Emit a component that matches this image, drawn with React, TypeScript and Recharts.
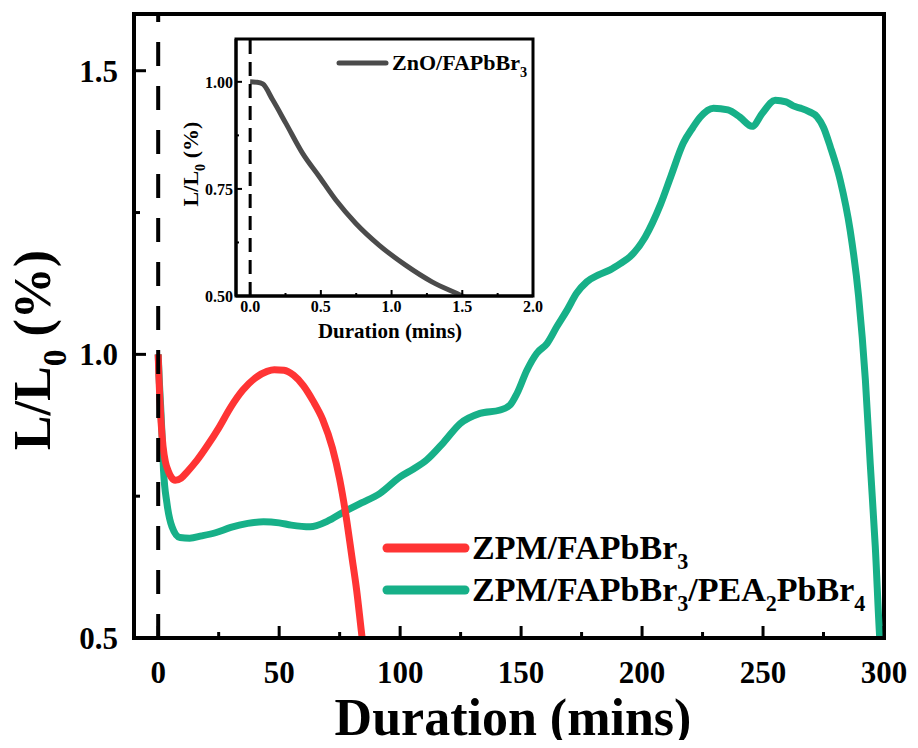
import { LineChart, Line, XAxis, YAxis, ReferenceLine, ReferenceArea } from 'recharts'

const FONT = '"Liberation Serif", Tinos, "Times New Roman", Times, "DejaVu Serif", serif'

// main chart (minutes vs L/L0)
const redX = [0, 0.3, 0.7, 1.2, 2.0, 3.0, 4.1, 5.5, 7, 9.5, 12, 16, 20, 25, 30, 35, 40, 45, 48, 52, 56, 60, 64, 68, 72, 75, 78, 80, 82, 84.3, 85.5]
const redY = [1.0, 0.96, 0.92, 0.88, 0.838, 0.81, 0.795, 0.783, 0.778, 0.782, 0.793, 0.813, 0.837, 0.87, 0.907, 0.937, 0.958, 0.97, 0.973, 0.972, 0.963, 0.945, 0.918, 0.885, 0.835, 0.78, 0.705, 0.645, 0.585, 0.5, 0.46]

const greenX = [0, 0.5, 1.0, 1.5, 2.2, 3.6, 5.7, 9, 13, 18, 24, 30, 37, 43.5, 50, 55, 62.8, 70, 76.6, 84, 91.7, 100, 105.5, 111, 118, 124.8, 133, 141.4, 145.5, 148.3, 152.4, 156.5, 160.7, 164.8, 169, 173, 177.2, 182, 186.8, 191, 195, 201.3, 207.5, 212, 217, 221, 224, 229.5, 235.5, 240.5, 245.5, 249.7, 255, 259.5, 262.5, 265.5, 269, 272.3, 275, 277.8, 281.9, 286, 289.5, 292.3, 294.3, 296.4, 298.4, 299.5]
const greenY = [1.0, 0.95, 0.91, 0.866, 0.796, 0.738, 0.696, 0.677, 0.676, 0.68, 0.686, 0.695, 0.702, 0.705, 0.703, 0.699, 0.696, 0.706, 0.722, 0.738, 0.755, 0.784, 0.798, 0.814, 0.845, 0.878, 0.896, 0.902, 0.911, 0.931, 0.972, 1.002, 1.019, 1.049, 1.078, 1.108, 1.128, 1.14, 1.149, 1.16, 1.172, 1.207, 1.263, 1.315, 1.372, 1.4, 1.418, 1.434, 1.431, 1.418, 1.402, 1.425, 1.448, 1.445, 1.438, 1.434, 1.428, 1.419, 1.4, 1.366, 1.307, 1.219, 1.102, 0.955, 0.808, 0.661, 0.49, 0.45]

// inset (first 2 minutes)
const grayX = [0, 0.05, 0.089, 0.159, 0.253, 0.371, 0.488, 0.606, 0.746, 0.911, 1.099, 1.286, 1.5, 1.56]
const grayY = [1.0, 0.999, 0.995, 0.958, 0.903, 0.833, 0.779, 0.724, 0.67, 0.619, 0.572, 0.533, 0.5, 0.49]

const mainXTicks = [0, 25, 50, 75, 100, 125, 150, 175, 200, 225, 250, 275, 300]
const mainYTicks = [0.5, 0.75, 1.0, 1.25, 1.5]
const insetXTicks = [0, 0.25, 0.5, 0.75, 1.0, 1.25, 1.5, 1.75, 2.0]
const insetYTicks = [0.5, 0.625, 0.75, 0.875, 1.0]

const MAIN_X_DOMAIN = [-10, 300]
const MAIN_Y_DOMAIN = [0.5, 1.6]
const INSET_X_DOMAIN = [-0.1, 2.0]
const INSET_Y_DOMAIN = [0.5, 1.1]

const mainSeries = [
  { name: 'ZPM/FAPbBr_3/PEA_2PbBr_4', color: '#17b088', xs: greenX, ys: greenY },
  { name: 'ZPM/FAPbBr_3', color: '#ff3434', xs: redX, ys: redY },
]
const legendOrder = [1, 0]

const toPoints = (xs: number[], ys: number[]) => xs.map((t, i) => ({ t, v: ys[i] }))

const txt = { fontFamily: FONT, fontWeight: 700 }

// 'A_3' -> A with subscript 3
function chem(label: string, size: number) {
  const parts = label.split(/_(\d)/)
  const shift = size * 0.3
  return parts.map((p, i) =>
    i % 2 === 1
      ? <tspan key={i} dy={shift} fontSize={size * 0.65}>{p}</tspan>
      : <tspan key={i} dy={i === 0 ? 0 : -shift}>{p}</tspan>
  )
}

const isStep = (v: number, step: number) => Math.abs(v / step - Math.round(v / step)) < 1e-6

function makeXTick(step: number, len: number, minorLen: number, fontSize: number, dy: number, digits: number, sw: number) {
  return (props: any) => {
    const { x, y, payload } = props
    const major = isStep(payload.value, step)
    return (
      <g>
        <line x1={x} x2={x} y1={y} y2={y - (major ? len : minorLen)} stroke="#000" strokeWidth={sw} />
        {major && (
          <text x={x} y={y + dy} textAnchor="middle" style={txt} fontSize={fontSize} fill="#000">
            {payload.value.toFixed(digits)}
          </text>
        )}
      </g>
    )
  }
}

function makeYTick(step: number, len: number, minorLen: number, fontSize: number, gap: number, dy: number, digits: number, sw: number) {
  return (props: any) => {
    const { x, y, payload } = props
    const major = isStep(payload.value, step)
    return (
      <g>
        <line x1={x} x2={x + (major ? len : minorLen)} y1={y} y2={y} stroke="#000" strokeWidth={sw} />
        {major && (
          <text x={x - gap} y={y + dy} textAnchor="end" style={txt} fontSize={fontSize} fill="#000">
            {payload.value.toFixed(digits)}
          </text>
        )}
      </g>
    )
  }
}

const MainXTick = makeXTick(50, 12, 6, 31, 45, 0, 3)
const MainYTick = makeYTick(0.5, 12, 6, 31, 16, 11, 1, 3)
const InsetXTick = makeXTick(0.5, 6, 3, 16, 16, 1, 2)
const InsetYTick = makeYTick(0.25, 6, 3, 16, 3, 6, 2, 2)

export default function App() {
  return (
    <div style={{ position: 'relative', width: 918, height: 748, margin: -8, background: '#fff', overflow: 'hidden' }}>
      <div style={{ position: 'absolute', left: 0, top: 0 }}>
        <LineChart width={918} height={748} margin={{ top: 14, right: 34, bottom: 109, left: 133 }}>
          <XAxis type="number" dataKey="t" domain={MAIN_X_DOMAIN} ticks={mainXTicks} interval={0} allowDataOverflow
            height={1} tickSize={0} tickMargin={0} tickLine={false}
            axisLine={{ stroke: '#000', strokeWidth: 4 }} tick={MainXTick} />
          <YAxis type="number" dataKey="v" domain={MAIN_Y_DOMAIN} ticks={mainYTicks} interval={0} allowDataOverflow
            width={1} tickSize={0} tickMargin={0} tickLine={false}
            axisLine={{ stroke: '#000', strokeWidth: 4 }} tick={MainYTick} />
          <ReferenceArea x1={MAIN_X_DOMAIN[0]} x2={MAIN_X_DOMAIN[1]} y1={MAIN_Y_DOMAIN[0]} y2={MAIN_Y_DOMAIN[1]}
            fill="none" stroke="#000" strokeWidth={4} fillOpacity={0} />
          {mainSeries.map(s => (
            <Line key={s.name} data={toPoints(s.xs, s.ys)} dataKey="v" name={s.name} type="monotone"
              stroke={s.color} strokeWidth={7} dot={false} isAnimationActive={false} />
          ))}
          <ReferenceLine x={0} stroke="#000" strokeWidth={4} strokeDasharray="24 20" />
        </LineChart>
      </div>

      <div style={{ position: 'absolute', left: 0, top: 0 }}>
        <LineChart width={560} height={345} margin={{ top: 39, right: 27, bottom: 48, left: 235 }}>
          <XAxis type="number" dataKey="t" domain={INSET_X_DOMAIN} ticks={insetXTicks} interval={0} allowDataOverflow
            height={1} tickSize={0} tickMargin={0} tickLine={false}
            axisLine={{ stroke: '#000', strokeWidth: 3 }} tick={InsetXTick} />
          <YAxis type="number" dataKey="v" domain={INSET_Y_DOMAIN} ticks={insetYTicks} interval={0} allowDataOverflow
            width={1} tickSize={0} tickMargin={0} tickLine={false}
            axisLine={{ stroke: '#000', strokeWidth: 3 }} tick={InsetYTick} />
          <ReferenceArea x1={INSET_X_DOMAIN[0]} x2={INSET_X_DOMAIN[1]} y1={INSET_Y_DOMAIN[0]} y2={INSET_Y_DOMAIN[1]}
            fill="none" stroke="#000" strokeWidth={3} fillOpacity={0} />
          <Line data={toPoints(grayX, grayY)} dataKey="v" name="ZnO/FAPbBr_3" type="monotone"
            stroke="#4b4b4b" strokeWidth={5} dot={false} isAnimationActive={false} />
          <ReferenceLine x={0} stroke="#000" strokeWidth={3} strokeDasharray="14 8" />
        </LineChart>
      </div>

      <svg width={918} height={748} style={{ position: 'absolute', left: 0, top: 0, pointerEvents: 'none' }}>
        <g style={txt} fill="#000">
          <text x={50} y={350} fontSize={52} textAnchor="middle" transform="rotate(-90 50 350)">{chem('L/L_0 (%)', 52)}</text>
          <text x={513} y={735} fontSize={52} textAnchor="middle">Duration (mins)</text>

          {legendOrder.map((idx, i) => {
            const s = mainSeries[idx]
            const y = 548 + i * 42
            return (
              <g key={s.name}>
                <line x1={387} x2={465} y1={y} y2={y} stroke={s.color} strokeWidth={9} strokeLinecap="round" />
                <text x={472} y={y + 11} fontSize={34}>{chem(s.name, 34)}</text>
              </g>
            )
          })}

          <text x={198} y={164} fontSize={22} textAnchor="middle" transform="rotate(-90 198 164)">{chem('L/L_0 (%)', 22)}</text>
          <text x={390} y={338} fontSize={21} textAnchor="middle">Duration (mins)</text>
          <line x1={339} x2={386} y1={63} y2={63} stroke="#4b4b4b" strokeWidth={5} strokeLinecap="round" />
          <text x={392} y={70} fontSize={22}>{chem('ZnO/FAPbBr_3', 22)}</text>
        </g>
      </svg>
    </div>
  )
}
